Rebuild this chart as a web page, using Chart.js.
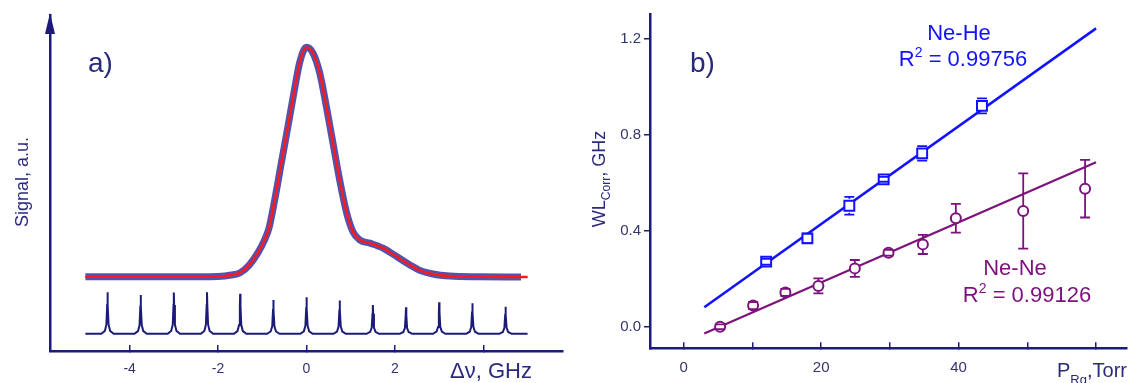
<!DOCTYPE html>
<html>
<head>
<meta charset="utf-8">
<script src="https://cdn.jsdelivr.net/npm/chart.js@4.4.1/dist/chart.umd.min.js"></script>
<style>
  html, body { margin: 0; padding: 0; background: #fff; }
  #wrap { position: relative; width: 1136px; height: 383px; overflow: hidden; }
  canvas { position: absolute; top: 0; }
  #chartA { left: 0; }
  #chartB { left: 575px; }
</style>
</head>
<body>
<div id="wrap">
  <canvas id="chartA" width="575" height="383"></canvas>
  <canvas id="chartB" width="561" height="383"></canvas>
</div>
<script>
// ---- a) absorption profile (GHz, a.u.) ----
const signalX = [-5.0, -3.0, -2.0, -1.7, -1.5, -1.3, -1.1, -0.95, -0.85, -0.72, -0.57, -0.42, -0.26, -0.15, 0.0,
                 0.15, 0.30, 0.45, 0.60, 0.75, 0.90, 1.05, 1.21, 1.43, 1.73, 2.04, 2.34, 2.56, 2.86, 3.24, 3.9, 4.85];
const signalY = [2.21, 2.21, 2.22, 2.26, 2.33, 2.55, 2.92, 3.30, 3.65, 4.49, 5.59, 6.68, 7.87, 8.61, 9.04,
                 8.86, 8.27, 7.27, 6.18, 5.09, 4.15, 3.55, 3.30, 3.21, 3.06, 2.81, 2.56, 2.40, 2.29, 2.23, 2.21, 2.20];
// fit runs a little past the last measured point
const fitEndX = 5.0;
const fitEndY = 2.20;

// Fabry-Perot reference peaks
const combPeakX = [-4.5, -3.75, -3.0, -2.25, -1.5, -0.75, 0.0, 0.75, 1.5, 2.25, 3.0, 3.75, 4.5];
const combPeakY = [1.75, 1.67, 1.74, 1.75, 1.70, 1.52, 1.60, 1.50, 1.37, 1.30, 1.45, 1.42, 1.32];
const combBase = 0.51;
const combStart = -5.0;
const combEnd = 5.0;
// shape of a single transmission spike (offset in GHz, fraction of height)
const spikeDx = [-0.14, -0.06, -0.025, -0.007, 0, 0.007, 0.025, 0.06, 0.14];
const spikeFrac = [0, 0.07, 0.22, 0.7, 1, 0.7, 0.22, 0.07, 0];

const freqTicks = [-4, -2, 0, 2, 4];

// ---- b) corrected width vs buffer gas pressure ----
const pressureHe = [12.0, 18.0, 24.1, 29.1, 34.7, 43.4];
const widthHe    = [0.271, 0.368, 0.504, 0.614, 0.722, 0.920];
const errHe      = [0.012, 0.02, 0.037, 0.01, 0.03, 0.031];
const fitHeX = [3.0, 60.0];
const fitHeY = [0.081, 1.243];

const pressureNe = [5.3, 10.1, 14.8, 19.6, 24.9, 29.8, 34.8, 39.6, 49.4, 58.4];
const widthNe    = [0.0, 0.088, 0.143, 0.170, 0.243, 0.308, 0.343, 0.452, 0.482, 0.575];
const errNe      = [0.01, 0.015, 0.015, 0.031, 0.035, 0.012, 0.04, 0.06, 0.157, 0.12];
const fitNeX = [3.0, 60.0];
const fitNeY = [-0.028, 0.685];

const pressureTicks = [0, 10, 20, 30, 40, 50, 60];
const widthTicks = [0.0, 0.4, 0.8, 1.2];

const NAVY = '#1c1c78';
const LABEL = '#34346e';
const BLUE = '#1212ff';
const PURPLE = '#7d127d';
const RED = '#ff1a1a';
const FONT = "'Liberation Sans', Arial, sans-serif";

const pts = (xs, ys) => xs.map((x, i) => ({ x: x, y: ys[i] }));

function combTrace() {
  const out = [{ x: combStart, y: combBase }];
  combPeakX.forEach((px, i) => {
    spikeDx.forEach((dx, k) => {
      out.push({ x: px + dx, y: combBase + (combPeakY[i] - combBase) * spikeFrac[k] });
    });
  });
  out.push({ x: combEnd, y: combBase });
  return out;
}

// draw text with a raised or lowered smaller part: parts = [[text, size, shift], ...]
function partsWidth(ctx, parts) {
  return parts.reduce((w, p) => { ctx.font = p[1] + 'px ' + FONT; return w + ctx.measureText(p[0]).width; }, 0);
}
function drawParts(ctx, parts, x, y) {
  parts.forEach(p => {
    ctx.font = p[1] + 'px ' + FONT;
    ctx.fillText(p[0], x, y + p[2]);
    x += ctx.measureText(p[0]).width;
  });
}

// ---------- panel a ----------
const panelAText = {
  id: 'panelAText',
  afterDraw(chart) {
    const ctx = chart.ctx;
    const area = chart.chartArea;
    ctx.save();
    // arrow head on the signal axis
    ctx.fillStyle = NAVY;
    ctx.beginPath();
    ctx.moveTo(area.left, area.top - 2);
    ctx.lineTo(area.left - 5, area.top + 19);
    ctx.lineTo(area.left + 5, area.top + 19);
    ctx.closePath();
    ctx.fill();

    ctx.fillStyle = '#2a2a7c';
    ctx.textBaseline = 'alphabetic';
    ctx.textAlign = 'left';
    ctx.font = '28px ' + FONT;
    ctx.fillText('a)', 88, 72);

    ctx.font = '22px ' + FONT;
    ctx.fillText('\u0394\u03bd, GHz', 450, 378);

    ctx.translate(28, 182);
    ctx.rotate(-Math.PI / 2);
    ctx.textAlign = 'center';
    ctx.font = '18px ' + FONT;
    ctx.fillText('Signal, a.u.', 0, 0);
    ctx.restore();
  }
};

new Chart(document.getElementById('chartA'), {
  type: 'line',
  data: {
    datasets: [
      {
        label: 'reference',
        data: combTrace(),
        borderColor: NAVY,
        borderWidth: 2,
        pointRadius: 0,
        tension: 0,
        order: 3
      },
      {
        label: 'signal',
        data: pts(signalX, signalY),
        borderColor: 'rgba(40, 40, 155, 0.8)',
        borderWidth: 7,
        pointRadius: 0,
        cubicInterpolationMode: 'monotone',
        order: 2
      },
      {
        label: 'fit',
        data: pts(signalX.slice(0, -1).concat([fitEndX]), signalY.slice(0, -1).concat([fitEndY])),
        borderColor: RED,
        borderWidth: 2.5,
        pointRadius: 0,
        cubicInterpolationMode: 'monotone',
        order: 1
      }
    ]
  },
  options: {
    responsive: false,
    animation: false,
    layout: { padding: { left: 0, top: 15, right: 12, bottom: 0 } },
    plugins: { legend: { display: false }, tooltip: { enabled: false } },
    scales: {
      x: {
        type: 'linear',
        min: -5.8,
        max: 5.8,
        afterBuildTicks: s => { s.ticks = freqTicks.map(v => ({ value: v })); },
        afterFit: s => { s.height = 32; s.paddingLeft = 0; s.paddingRight = 0; },
        ticks: {
          autoSkip: false,
          maxRotation: 0,
          padding: 15.5,
          color: LABEL,
          font: { family: FONT, size: 14 },
          callback: v => (v === 4 ? '' : String(v))
        },
        grid: { drawOnChartArea: false, tickLength: -6, color: NAVY, lineWidth: 1.5 },
        border: { color: NAVY, width: 2.5 }
      },
      y: {
        type: 'linear',
        min: 0,
        max: 10,
        afterFit: s => { s.width = 50; },
        ticks: { display: false },
        grid: { drawOnChartArea: false, drawTicks: false },
        border: { color: NAVY, width: 2.5 }
      }
    }
  },
  plugins: [panelAText]
});

// ---------- panel b ----------
const errorBars = {
  id: 'errorBars',
  afterDatasetsDraw(chart) {
    const ctx = chart.ctx;
    const xs = chart.scales.x;
    const ys = chart.scales.y;
    chart.data.datasets.forEach(ds => {
      if (!ds.errors) return;
      const r = ds.pointRadius;
      ctx.save();
      ctx.strokeStyle = ds.borderColor;
      ctx.lineWidth = 1.8;
      ds.data.forEach((p, i) => {
        const px = xs.getPixelForValue(p.x);
        const py = ys.getPixelForValue(p.y);
        const top = ys.getPixelForValue(p.y + ds.errors[i]);
        const bot = ys.getPixelForValue(p.y - ds.errors[i]);
        ctx.beginPath();
        if (py - top > r) { ctx.moveTo(px, top); ctx.lineTo(px, py - r); }
        if (bot - py > r) { ctx.moveTo(px, py + r); ctx.lineTo(px, bot); }
        ctx.moveTo(px - 5, top); ctx.lineTo(px + 5, top);
        ctx.moveTo(px - 5, bot); ctx.lineTo(px + 5, bot);
        ctx.stroke();
      });
      ctx.restore();
    });
  }
};

const panelBText = {
  id: 'panelBText',
  afterDraw(chart) {
    const ctx = chart.ctx;
    ctx.save();
    ctx.textBaseline = 'alphabetic';
    ctx.textAlign = 'left';

    ctx.fillStyle = '#2a2a7c';
    ctx.font = '28px ' + FONT;
    ctx.fillText('b)', 115, 72);

    const label = (text, color, cx, base) => {
      ctx.fillStyle = color;
      ctx.font = '22px ' + FONT;
      const w = ctx.measureText(text).width;
      ctx.fillText(text, cx - w / 2, base);
    };
    const rsq = (value, color, cx, base) => {
      ctx.fillStyle = color;
      const parts = [['R', 22, 0], ['2', 14, -9], [' = ' + value, 22, 0]];
      drawParts(ctx, parts, cx - partsWidth(ctx, parts) / 2, base);
    };
    label('Ne-He', BLUE, 384, 40);
    rsq('0.99756', BLUE, 388, 66);
    label('Ne-Ne', PURPLE, 440, 275);
    rsq('0.99126', PURPLE, 452, 302);

    ctx.fillStyle = '#2a2a7c';
    drawParts(ctx, [['P', 20, 0], ['Rg', 13, 7], [',Torr', 20, 0]], 482, 377);

    ctx.translate(30, 179);
    ctx.rotate(-Math.PI / 2);
    const yTitle = [['WL', 18, 0], ['Corr', 12, 5], [', GHz', 18, 0]];
    drawParts(ctx, yTitle, -partsWidth(ctx, yTitle) / 2, 0);
    ctx.restore();
  }
};

new Chart(document.getElementById('chartB'), {
  type: 'scatter',
  data: {
    datasets: [
      {
        label: 'Ne-He fit',
        data: pts(fitHeX, fitHeY),
        showLine: true,
        borderColor: BLUE,
        borderWidth: 2.5,
        pointRadius: 0,
        order: 2
      },
      {
        label: 'Ne-Ne fit',
        data: pts(fitNeX, fitNeY),
        showLine: true,
        borderColor: PURPLE,
        borderWidth: 2.2,
        pointRadius: 0,
        order: 2
      },
      {
        label: 'Ne-He',
        data: pts(pressureHe, widthHe),
        errors: errHe,
        pointStyle: 'rect',
        pointRadius: 7,
        borderColor: BLUE,
        backgroundColor: '#ffffff',
        borderWidth: 2,
        order: 1
      },
      {
        label: 'Ne-Ne',
        data: pts(pressureNe, widthNe),
        errors: errNe,
        pointStyle: 'circle',
        pointRadius: 5,
        borderColor: PURPLE,
        backgroundColor: '#ffffff',
        borderWidth: 2,
        order: 1
      }
    ]
  },
  options: {
    responsive: false,
    animation: false,
    layout: { padding: { left: 0, top: 14.7, right: 0, bottom: 0 } },
    plugins: { legend: { display: false }, tooltip: { enabled: false } },
    scales: {
      x: {
        type: 'linear',
        min: -4.9,
        max: 64.5,
        afterBuildTicks: s => { s.ticks = pressureTicks.map(v => ({ value: v })); },
        afterFit: s => { s.height = 34.7; s.paddingLeft = 0; s.paddingRight = 0; },
        ticks: {
          autoSkip: false,
          maxRotation: 0,
          padding: 17,
          color: LABEL,
          font: { family: FONT, size: 15 },
          callback: v => (v % 20 === 0 && v < 60 ? String(v) : '')
        },
        grid: { drawOnChartArea: false, tickLength: -6, color: NAVY, lineWidth: 1.5 },
        border: { color: NAVY, width: 2.5 }
      },
      y: {
        type: 'linear',
        min: -0.09,
        max: 1.3,
        afterBuildTicks: s => { s.ticks = widthTicks.map(v => ({ value: v })); },
        afterFit: s => { s.width = 75; },
        ticks: {
          padding: 3,
          color: LABEL,
          font: { family: FONT, size: 15 },
          callback: v => v.toFixed(1)
        },
        grid: { drawOnChartArea: false, tickLength: 6, color: NAVY, lineWidth: 1.5 },
        border: { color: NAVY, width: 2.5 }
      }
    }
  },
  plugins: [errorBars, panelBText]
});
</script>
</body>
</html>
